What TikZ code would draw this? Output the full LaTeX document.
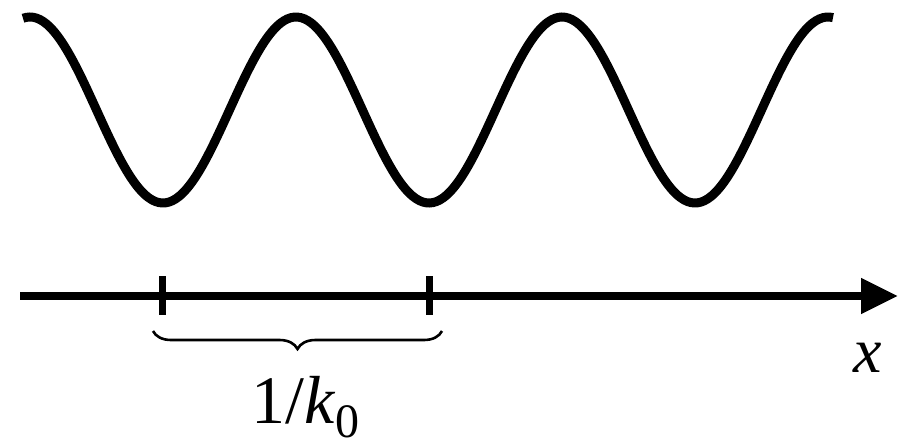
\documentclass[tikz,border=0pt]{standalone}
\usepackage{fontspec}
\setmainfont{Liberation Serif}
\usetikzlibrary{arrows.meta,decorations.pathreplacing}
\begin{document}
\begin{tikzpicture}[x=1pt,y=-1pt,
  wave/.style={line width=9pt},
  axis/.style={line width=8pt,-{Triangle[length=37pt,width=34pt]}},
  tick/.style={line width=7pt},
  lbl/.style={inner sep=0pt,font=\fontsize{68}{68}\selectfont}]
\useasboundingbox (0,0) rectangle (908,440);
\draw[wave] plot[domain=23:833,samples=240,smooth] (\x,{110-93*cos(1.353383*(\x-30))});
\coordinate (a0) at (20,296);
\coordinate (a1) at (898,296);
\draw[axis] (a0) -- (a1);
\coordinate (t1a) at (162,276);
\coordinate (t1b) at (162,315);
\coordinate (t2a) at (429,276);
\coordinate (t2b) at (429,315);
\draw[tick] (t1a) -- (t1b);
\draw[tick] (t2a) -- (t2b);
\coordinate (b0) at (153,331);
\coordinate (b1) at (442,331);
\draw[line width=2.6pt,decorate,decoration={brace,amplitude=18pt,mirror}] (b0) -- (b1);
\node[lbl,anchor=base west] (k) at (251,423) {1/\textit{k}\raisebox{-14pt}{\fontsize{48}{48}\selectfont 0}};
\node[lbl,anchor=base west,font=\fontsize{64}{64}\selectfont] (x) at (853,372) {\textit{x}};
\end{tikzpicture}
\end{document}
